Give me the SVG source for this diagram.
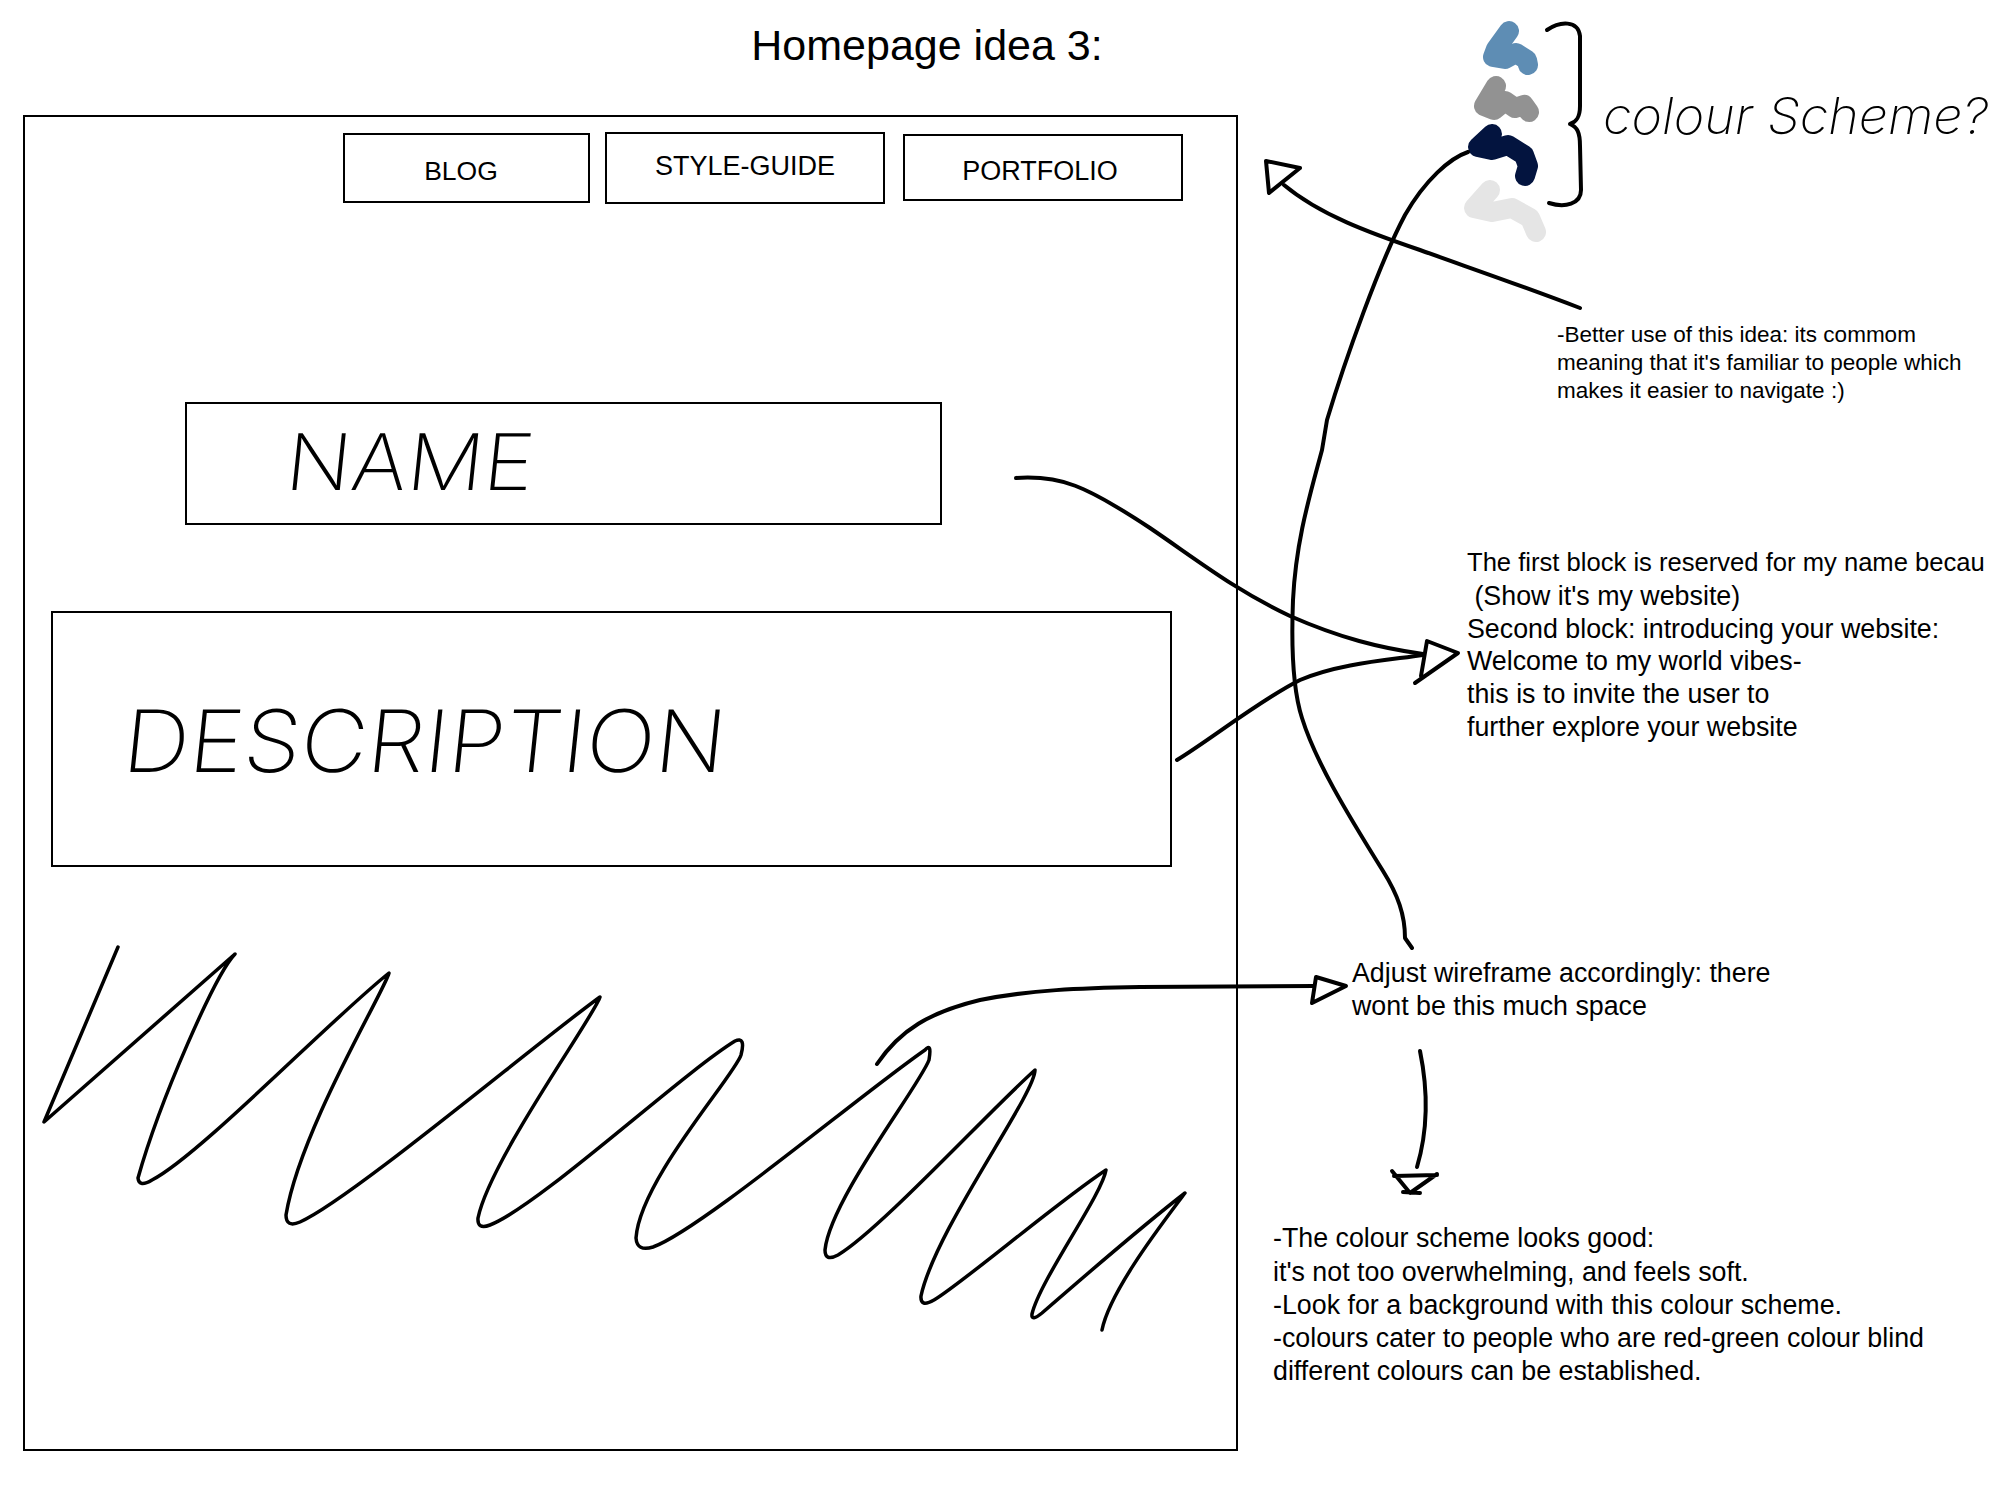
<svg xmlns="http://www.w3.org/2000/svg" width="2000" height="1500" viewBox="0 0 2000 1500">
<style>
.box{fill:#fff;stroke:#000;stroke-width:2}
.ln{fill:none;stroke:#000;stroke-width:4;stroke-linecap:round;stroke-linejoin:round}
.thin{fill:none;stroke:#000;stroke-width:3.5;stroke-linecap:round;stroke-linejoin:round}
.head{fill:#fff;stroke:#000;stroke-width:4;stroke-linejoin:round;stroke-linecap:round}
.t{font-family:"Liberation Sans",Arial,sans-serif;fill:#000}
.hw{font-family:Inter,Roboto,"Liberation Sans",sans-serif;font-weight:200;fill:#000}
.blob{fill:none;stroke-width:20;stroke-linecap:round;stroke-linejoin:round}
</style>
<rect width="2000" height="1500" fill="#fff"/>

<text class="t" x="927" y="60" font-size="43" text-anchor="middle">Homepage idea 3:</text>

<g id="frame"><rect class="box" x="24" y="116" width="1213" height="1334" fill="none"/></g>

<g id="nav-blog"><rect class="box" x="344" y="134" width="245" height="68"/><text class="t" x="461" y="180" font-size="26.5" text-anchor="middle">BLOG</text></g>
<g id="nav-style-guide"><rect class="box" x="606" y="133" width="278" height="70"/><text class="t" x="745" y="175" font-size="27" text-anchor="middle">STYLE-GUIDE</text></g>
<g id="nav-portfolio"><rect class="box" x="904" y="135" width="278" height="65"/><text class="t" x="1040" y="180" font-size="27" text-anchor="middle">PORTFOLIO</text></g>

<g id="name-box"><rect class="box" x="186" y="403" width="755" height="121"/>
<text class="hw" x="283" y="490" font-size="78" textLength="248" lengthAdjust="spacingAndGlyphs" transform="skewX(-6) translate(52,0)">NAME</text></g>

<g id="description-box"><rect class="box" x="52" y="612" width="1119" height="254"/>
<text class="hw" x="121" y="772" font-size="86" textLength="602" lengthAdjust="spacingAndGlyphs" transform="skewX(-6) translate(81,0)">DESCRIPTION</text></g>

<g id="scribble"><path class="thin" d="M118,947 L44,1122 L235,954 C215,975 160,1100 138,1178 Q139,1188 152,1180 C200,1155 330,1020 389,973 C385,990 300,1130 286,1215 Q286,1228 300,1222 C350,1200 540,1040 600,997 C595,1015 490,1160 478,1218 Q477,1230 490,1225 C540,1205 680,1075 735,1041 Q746,1036 741,1055 C735,1075 640,1180 636,1238 Q637,1252 653,1247 C700,1230 860,1095 925,1050 Q932,1042 929,1060 C920,1085 830,1200 825,1250 Q825,1262 838,1255 C880,1230 990,1110 1035,1070 C1035,1095 935,1230 921,1296 Q920,1308 934,1300 C960,1285 1060,1200 1106,1170 C1102,1195 1040,1280 1032,1314 Q1031,1322 1042,1313 C1080,1280 1150,1220 1185,1193 C1165,1220 1110,1290 1102,1330"/></g>

<g id="colour-scheme">
<path class="blob" stroke="#5e8db4" d="M1509,31 L1496,49 L1493,57 L1505,59 L1516,53 L1527,60 L1528,65"/>
<path class="blob" stroke="#929292" d="M1496,86 L1484,106 L1494,110 L1505,101 L1515,108 L1524,105 L1529,112"/>
<path class="blob" stroke="#03143f" d="M1492,134 L1478,147 L1492,150 L1508,145 L1524,155 L1528,166 L1525,176"/>
<path class="blob" stroke="#e5e5e5" d="M1490,190 L1474,208 L1492,212 L1512,208 L1530,218 L1536,232"/>
<path class="ln" d="M1547,30 C1560,21 1578,20 1580,36 L1580,106 C1580,118 1576,122 1570,124 C1577,127 1580,132 1580,146 L1581,190 C1581,204 1565,208 1549,203"/>
<text class="hw" x="1603" y="134" font-size="50" font-weight="300" textLength="385" lengthAdjust="spacingAndGlyphs" font-style="italic">colour Scheme?</text>
</g>

<g id="note-better"><text class="t" font-size="22.5"><tspan x="1557" y="342">-Better use of this idea: its commom</tspan><tspan x="1557" y="370">meaning that it's familiar to people which</tspan><tspan x="1557" y="398">makes it easier to navigate :)</tspan></text></g>

<g id="note-blocks"><text class="t" font-size="26.8"><tspan x="1467" y="571" font-size="25.6">The first block is reserved for my name becau</tspan><tspan x="1467" y="605"> (Show it's my website)</tspan><tspan x="1467" y="638">Second block: introducing your website:</tspan><tspan x="1467" y="670">Welcome to my world vibes-</tspan><tspan x="1467" y="703">this is to invite the user to</tspan><tspan x="1467" y="736">further explore your website</tspan></text></g>

<g id="note-adjust"><text class="t" font-size="26.8"><tspan x="1352" y="982">Adjust wireframe accordingly: there</tspan><tspan x="1352" y="1015">wont be this much space</tspan></text></g>

<g id="note-colour"><text class="t" font-size="26.8"><tspan x="1273" y="1247">-The colour scheme looks good:</tspan><tspan x="1273" y="1281">it's not too overwhelming, and feels soft.</tspan><tspan x="1273" y="1314">-Look for a background with this colour scheme.</tspan><tspan x="1273" y="1347">-colours cater to people who are red-green colour blind</tspan><tspan x="1273" y="1380">different colours can be established.</tspan></text></g>

<g id="connectors">
<path class="ln" d="M1016,478 C1060,475 1085,485 1150,528 C1200,562 1235,590 1290,616 C1340,638 1380,648 1423,654"/>
<path class="ln" d="M1177,760 C1210,740 1260,700 1300,680 C1340,663 1390,660 1423,655"/>
<path class="head" d="M1415,683 L1458,653 L1427,641 L1421,676"/>
<path class="ln" d="M1468,152 C1450,158 1425,180 1405,215 C1380,262 1345,360 1327,420 L1322,450 C1310,495 1296,540 1293,600 C1291,650 1293,690 1302,718 C1315,760 1345,810 1383,871 C1398,895 1405,915 1405,938 L1412,948"/>
<path class="ln" d="M1580,308 C1520,285 1470,268 1420,250 C1370,233 1320,215 1284,185"/>
<path class="head" d="M1266,161 L1300,168 L1269,193 Z"/>
<path class="ln" d="M877,1064 C900,1030 930,1012 980,1000 C1030,990 1080,988 1140,987 L1314,986"/>
<path class="head" d="M1316,977 L1346,986 L1312,1003 Z"/>
<path class="ln" d="M1420,1051 C1428,1090 1428,1130 1417,1167"/>
<path class="ln" d="M1392,1171 L1410,1193 L1437,1174 M1394,1176 L1437,1175 M1403,1192 L1420,1193"/>
</g>
</svg>
